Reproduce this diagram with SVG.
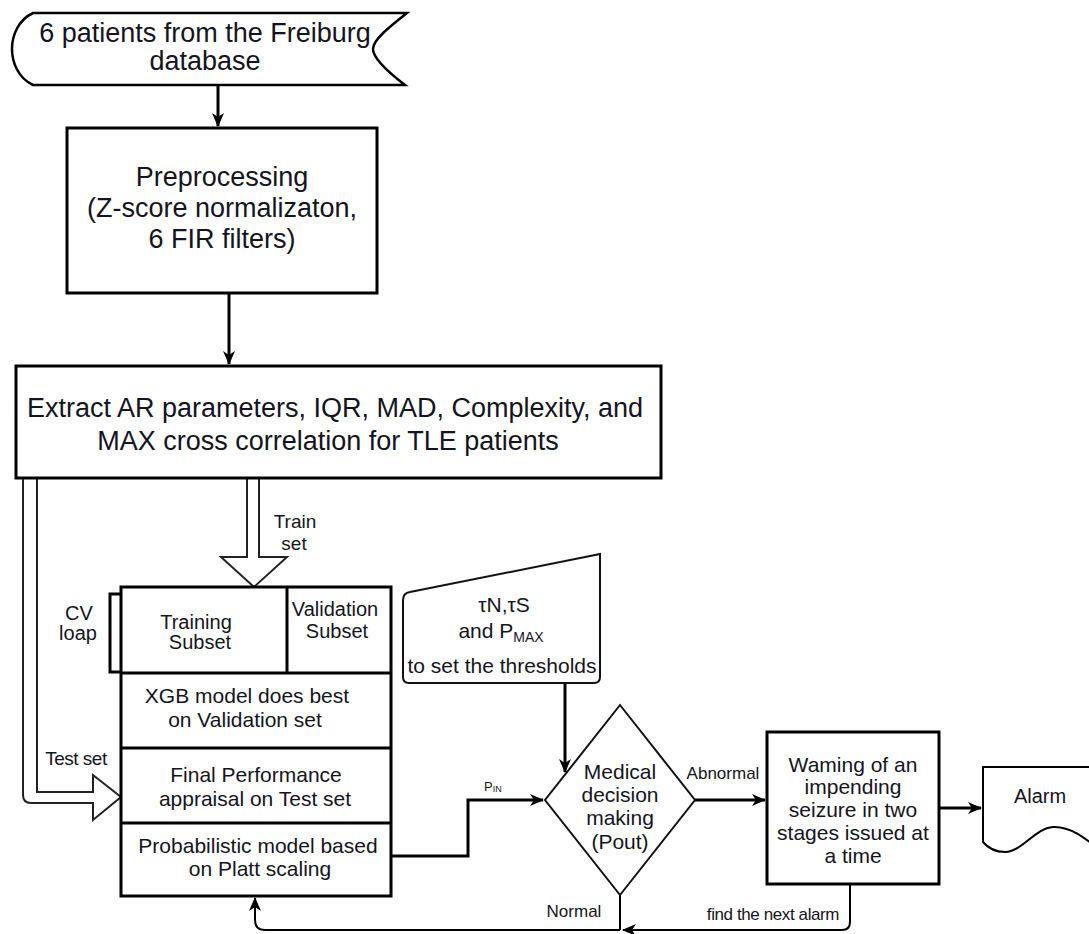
<svg xmlns="http://www.w3.org/2000/svg" width="1089" height="934" viewBox="0 0 1089 934">
<style>
text{font-family:"Liberation Sans",Arial,sans-serif;fill:#141420;text-anchor:middle}
.big{font-size:27px}
.mid{font-size:21px}
.sm{font-size:17px}
.box{fill:#fff;stroke:#000;stroke-width:3}
.thin{fill:#fff;stroke:#111;stroke-width:2}
.con{fill:none;stroke:#000;stroke-width:3}
.con2{fill:none;stroke:#000;stroke-width:2}
.hollow{fill:#fff;stroke:#222;stroke-width:2;stroke-linejoin:miter}
</style>
<defs>
<marker id="ah" markerUnits="userSpaceOnUse" markerWidth="14" markerHeight="14" viewBox="0 0 14 14" refX="13" refY="7" orient="auto">
<path d="M0,1 L14,7 L0,13 L4,7 Z" fill="#000"/>
</marker>
</defs>
<rect width="1089" height="934" fill="#fff"/>

<g id="connectors">
<line class="con" x1="218" y1="85" x2="218" y2="126" marker-end="url(#ah)"/>
<line class="con" x1="229" y1="293" x2="229" y2="364" marker-end="url(#ah)"/>
<path class="hollow" d="M23 478 L23 795 Q23 803 31 803 L93 803 L93 820 L121 797 L93 775 L93 792 L37 792 L37 478"/>
<path class="hollow" d="M247 478 L247 557 L221 557 L254 587 L287 557 L259 557 L259 478"/>
<line class="con" x1="565" y1="683" x2="565" y2="772" marker-end="url(#ah)"/>
<path class="con" d="M391 856 L468 856 L468 800 L543 800" marker-end="url(#ah)"/>
<line class="con" x1="695" y1="800" x2="765" y2="800" marker-end="url(#ah)"/>
<line class="con" x1="939" y1="808" x2="981" y2="808" marker-end="url(#ah)"/>
<line class="con2" x1="620" y1="895" x2="620" y2="930"/>
<path class="con2" d="M850 884 L850 922 Q850 930 842 930 L623 930" marker-end="url(#ah)"/>
<path class="con2" d="M620 930 L265 930 Q255 930 255 920 L255 898" marker-end="url(#ah)"/>
<text class="sm" x="295" y="528" style="font-size:19px">Train</text>
<text class="sm" x="294" y="550" style="font-size:19px">set</text>
<text class="sm" x="76" y="765" style="font-size:19px;letter-spacing:-0.5px">Test set</text>
<text x="484" y="791" style="font-size:13px;text-anchor:start">P<tspan font-size="9" dy="1">IN</tspan></text>
<text class="sm" x="723" y="779">Abnormal</text>
<text class="sm" x="574" y="917">Normal</text>
<text class="sm" x="773" y="920" style="letter-spacing:-0.4px">find the next alarm</text>
</g>

<g id="source">
<path d="M33 13 L407 13 C388 28 373 40 373 49 C373 58 388 72 405 85 L33 85 C18 78 12 62 12 49 C12 36 18 20 33 13 Z" fill="#fff" stroke="#000" stroke-width="2.5"/>
<text class="big" x="205" y="42">6 patients from the Freiburg</text>
<text class="big" x="205" y="70">database</text>
</g>

<g id="preprocessing">
<rect class="box" x="67" y="128" width="310" height="165"/>
<text class="big" x="222" y="186">Preprocessing</text>
<text class="big" x="222" y="217">(Z-score normalizaton,</text>
<text class="big" x="222" y="248">6 FIR filters)</text>
</g>

<g id="extract">
<rect class="box" x="16" y="366" width="645" height="112" stroke-width="3.5"/>
<text class="big" x="335" y="417">Extract AR parameters, IQR, MAD, Complexity, and</text>
<text class="big" x="328" y="450">MAX cross correlation for TLE patients</text>
</g>

<g id="model-stack">
<rect class="box" x="121" y="587" width="270" height="309"/>
<line class="con" x1="121" y1="673" x2="391" y2="673"/>
<line class="con" x1="121" y1="748" x2="391" y2="748"/>
<line class="con" x1="121" y1="823" x2="391" y2="823"/>
<line class="con" x1="287" y1="587" x2="287" y2="673"/>
<path class="con" d="M121 594 L110 594 L110 672 L121 672"/>
<text class="mid" x="79" y="620" style="font-size:20px">CV</text>
<text class="mid" x="78" y="640" style="font-size:20px">loap</text>
<text class="mid" x="196" y="629" style="font-size:20px">Training</text>
<text class="mid" x="200" y="649" style="font-size:20px">Subset</text>
<text class="mid" x="335" y="616" style="font-size:20px">Validation</text>
<text class="mid" x="337" y="638" style="font-size:20px">Subset</text>
<text class="mid" x="247" y="703">XGB model does best</text>
<text class="mid" x="245" y="727">on Validation set</text>
<text class="mid" x="256" y="782">Final Performance</text>
<text class="mid" x="255" y="806">appraisal on Test set</text>
<text class="mid" x="258" y="853">Probabilistic model based</text>
<text class="mid" x="260" y="876">on Platt scaling</text>
</g>

<g id="thresholds">
<path class="thin" d="M403 600 Q403 593 410 592 L600 554 L600 677 Q600 683 594 683 L409 683 Q403 683 403 677 Z" stroke="#222"/>
<text class="mid" x="504" y="612">τN,τS</text>
<text class="mid" x="501" y="638">and P<tspan font-size="14" dy="4">MAX</tspan></text>
<text class="mid" x="502" y="673">to set the thresholds</text>
</g>

<g id="decision">
<polygon class="thin" points="620,705 695,800 620,895 545,800" stroke="#000"/>
<text class="mid" x="620" y="779">Medical</text>
<text class="mid" x="620" y="802">decision</text>
<text class="mid" x="620" y="825">making</text>
<text class="mid" x="620" y="849">(Pout)</text>
</g>

<g id="warning">
<rect class="box" x="767" y="732" width="172" height="152"/>
<text class="mid" x="853" y="772">Waming of an</text>
<text class="mid" x="853" y="794">impending</text>
<text class="mid" x="853" y="817">seizure in two</text>
<text class="mid" x="853" y="840">stages issued at</text>
<text class="mid" x="853" y="863">a time</text>
</g>

<g id="alarm">
<path d="M983 767 L1100 767 L1100 850 C1085 838 1070 826 1053 827 C1035 828 1022 852 1005 852 C995 852 988 848 983 842 Z" fill="#fff" stroke="#000" stroke-width="2"/>
<text class="mid" x="1040" y="803" style="font-size:20px">Alarm</text>
</g>
</svg>
